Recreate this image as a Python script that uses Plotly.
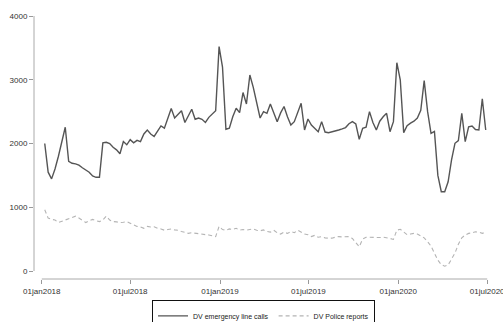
import pandas as pd
import plotly.graph_objects as go

# Weekly observations, Jan 2018 - Jun 2020
week_start = "2018-01-07"
n_weeks = 130
dates = pd.date_range(week_start, periods=n_weeks, freq="7D")

calls = [
    2000, 1550, 1445, 1600, 1800, 2050, 2255, 1720, 1690, 1680,
    1660, 1620, 1590, 1550, 1490, 1470, 1470, 2010, 2020, 2000,
    1940, 1900, 1840, 2030, 1980, 2060, 2010, 2050, 2030, 2150,
    2210, 2150, 2110, 2200, 2275, 2240, 2400, 2550, 2400, 2450,
    2515, 2330, 2430, 2537, 2380, 2400, 2380, 2330, 2410, 2460,
    2515, 3520, 3200, 2223, 2240, 2420, 2553, 2484, 2800, 2620,
    3075, 2880, 2650, 2400, 2500, 2474, 2620, 2480, 2343, 2480,
    2580, 2420, 2290, 2343, 2480, 2630, 2212, 2385, 2290, 2240,
    2186, 2343, 2180, 2170, 2180, 2200, 2212, 2230, 2250, 2310,
    2343, 2306, 2066, 2240, 2255, 2500, 2330, 2212, 2350, 2420,
    2474, 2186, 2343, 3268, 3000, 2170, 2280, 2320, 2350, 2400,
    2520, 2986, 2500, 2160, 2190, 1500, 1244, 1244, 1400, 1742,
    2003, 2045, 2474, 2030, 2260, 2275, 2220, 2212, 2700, 2212,
]

police = [
    960, 830, 810, 800, 760, 780, 810, 820, 840, 860,
    830, 800, 760, 790, 810, 790, 775, 800, 860, 800,
    775, 770, 760, 765, 775, 750, 725, 700, 690, 670,
    700, 690, 695, 670, 660, 640, 650, 660, 645, 640,
    620, 600, 590, 600, 590, 590, 580, 570, 565, 550,
    540, 700, 650, 640, 660, 650, 670, 640, 650, 640,
    650, 660, 640, 630, 645, 620, 610, 640, 600, 580,
    610, 590, 620, 600, 640, 610, 580, 570, 540, 560,
    530, 540, 520, 515, 515, 530, 540, 535, 540, 540,
    510, 450, 380, 500, 530, 530, 525, 530, 525, 530,
    525, 510, 495, 640, 655, 610, 570, 580, 590, 580,
    550, 520, 460, 390, 280, 170, 100, 75, 95, 180,
    280, 420, 520, 565, 590, 600, 615, 610, 590, 610,
]

x_tickvals = ["2018-01-01", "2018-07-01", "2019-01-01", "2019-07-01", "2020-01-01", "2020-07-01"]
x_ticktext = ["01jan2018", "01jul2018", "01jan2019", "01jul2019", "01jan2020", "01jul2020"]
y_tickvals = [0, 1000, 2000, 3000, 4000]
y_ticktext = ["0", "1000", "2000", "3000", "4000"]

fig = go.Figure()
fig.add_trace(go.Scatter(
    x=dates, y=calls, mode="lines", name="DV emergency line calls",
    line=dict(color="#555555", width=1.4),
))
fig.add_trace(go.Scatter(
    x=dates, y=police, mode="lines", name="DV Police reports",
    line=dict(color="#b4b4b4", width=1.1, dash="4px,3px"),
))

tickfont = dict(family="Liberation Sans, Arial, sans-serif", size=8, color="#333333")

fig.update_layout(
    width=503, height=322,
    margin=dict(l=34, r=8, t=12, b=43, autoexpand=False),
    paper_bgcolor="white", plot_bgcolor="white",
    showlegend=True,
    legend=dict(
        orientation="h", x=0.256, xanchor="left", y=-0.08, yanchor="top",
        bordercolor="#111111", borderwidth=1, bgcolor="white",
        font=dict(family="Liberation Sans, Arial, sans-serif", size=7, color="#222222"),
        itemwidth=30, tracegroupgap=0,
    ),
    xaxis=dict(
        range=["2017-12-16", "2020-07-17"],
        tickmode="array", tickvals=x_tickvals, ticktext=x_ticktext,
        ticks="outside", ticklen=4, tickcolor="#999999", tickwidth=1,
        showgrid=False, zeroline=False, showline=False,
        tickfont=tickfont, ticklabeloverflow="allow",
    ),
    yaxis=dict(
        range=[-125.5, 4063],
        tickmode="array", tickvals=y_tickvals, ticktext=y_ticktext,
        ticks="outside", ticklen=4, tickcolor="#999999", tickwidth=1,
        showgrid=False, zeroline=False, showline=False,
        tickfont=tickfont,
    ),
)

# Stata-style axis lines spanning only the tick range
fig.add_shape(type="line", xref="paper", yref="y", x0=0, x1=0,
              y0=y_tickvals[0], y1=y_tickvals[-1],
              line=dict(color="#aaaaaa", width=1))
fig.add_shape(type="line", xref="x", yref="paper", x0=x_tickvals[0], x1=x_tickvals[-1],
              y0=0, y1=0, line=dict(color="#aaaaaa", width=1))

fig.write_html("out.html")
